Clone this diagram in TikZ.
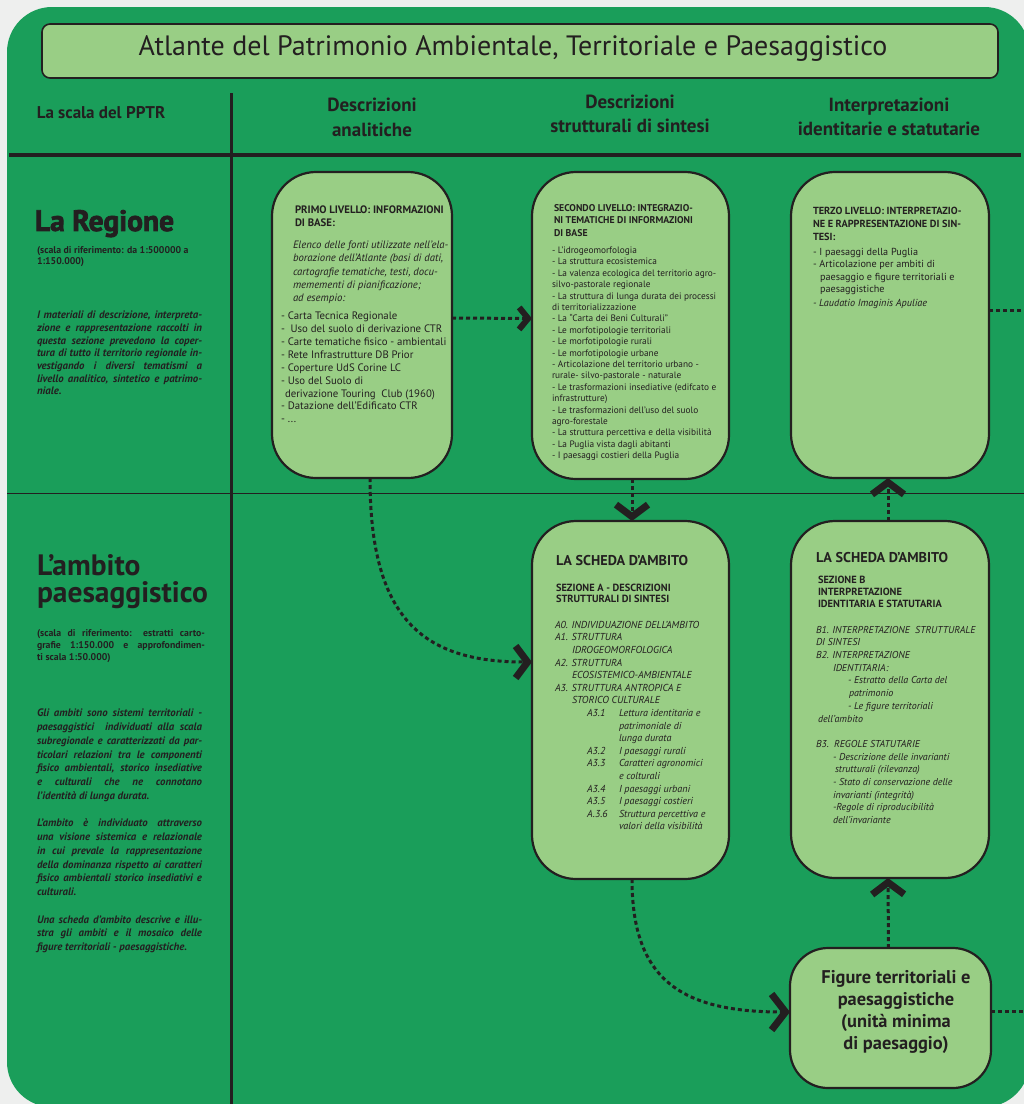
\documentclass[tikz,border=0pt]{standalone}
\usepackage{fontspec}
\setmainfont{PT Sans}
\newfontfamily\heavyfont[FakeBold=2.5]{PT Sans}
\usetikzlibrary{arrows.meta}
\definecolor{bggray}{RGB}{238,239,238}
\definecolor{mygreen}{RGB}{26,158,90}
\definecolor{boxgreen}{RGB}{153,206,133}
\definecolor{ink}{RGB}{35,31,32}
\newcommand{\jline}[2][165pt]{\makebox[#1][s]{#2}}
\newcommand{\secitem}[2]{\hspace*{32pt}\makebox[32pt][l]{#1}#2}
\begin{document}
\begin{tikzpicture}[x=1pt,y=-1pt,
  every node/.style={inner sep=0pt,outer sep=0pt,text=ink},
  card/.style={draw=ink,line width=2.2pt,fill=boxgreen,rounded corners=44pt},
  txt/.style={anchor=north west,align=left},
  colhead/.style={align=center,font=\bfseries\fontsize{19}{24.5}\selectfont},
  bigleft/.style={anchor=base west,font=\bfseries\fontsize{29.5}{34}\selectfont},
  dotl/.style={draw=ink,line width=3pt,dash pattern=on 4pt off 3pt},
  chevs/.style={-{Straight Barb[length=9pt,width=22pt,line width=6pt]}},
  chevl/.style={-{Straight Barb[length=12pt,width=32pt,line width=7pt]}},
  chevx/.style={-{Straight Barb[length=14pt,width=36pt,line width=7pt]}}]
\useasboundingbox (0,0) rectangle (1024,1104);
\fill[bggray] (0,0) rectangle (1024,1104);
\fill[mygreen,rounded corners=45pt] (7,7) rectangle (1029.5,1107);

% title
\node[card,rounded corners=8pt,line width=1.6pt,minimum width=956pt,minimum height=54pt] (title) at (520,51) {};
\node[font=\fontsize{28}{34}\selectfont] (titletxt) at (513,49)
  {Atlante del Patrimonio Ambientale, Territoriale e Paesaggistico};

% grid lines
\draw[ink,line width=4pt] (9,155) -- (1021,155);
\draw[ink,line width=1pt] (7,493) -- (1028,493);
\draw[ink,line width=3pt] (231,93) -- (231,1104);

% column headers
\node[font=\bfseries\fontsize{17}{20}\selectfont] (hscale) at (101,113) {La scala del PPTR};
\node[colhead] (h1) at (372,117.5) {Descrizioni\\analitiche};
\node[colhead] (h2) at (630,114) {Descrizioni\\strutturali di sintesi};
\node[colhead] (h3) at (889,117) {Interpretazioni\\identitarie e statutarie};

% left column: La Regione
\node[txt,font=\heavyfont\bfseries\fontsize{29.5}{34}\selectfont] (reg) at (35,210) {La Regione};
\node[txt,font=\bfseries\fontsize{9.8}{11}\selectfont] (regs) at (37,246)
  {(scala di riferimento: da 1:500000 a\\1:150.000)};
\node[txt,font=\bfseries\itshape\fontsize{10.8}{12.7}\selectfont] (regp) at (37,311)
  {\jline{I materiali di descrizione, interpreta-}\\
   \jline{zione e rappresentazione raccolti in}\\
   \jline{questa sezione prevedono la coper-}\\
   \jline{tura di tutto il territorio regionale in-}\\
   \jline{vestigando i diversi tematismi a}\\
   \jline{livello analitico, sintetico e patrimo-}\\
   niale.};

% left column: L'ambito
\node[bigleft] (amb1) at (37,575) {L’ambito};
\node[bigleft] (amb2) at (37,602) {paesaggistico};
\node[txt,font=\bfseries\fontsize{9.8}{12}\selectfont] (ambs) at (37,630)
  {\jline[168pt]{(scala di riferimento: estratti carto-}\\
   \jline[168pt]{grafie 1:150.000 e approfondimen-}\\
   ti scala 1:50.000)};
\node[txt,font=\bfseries\itshape\fontsize{10.8}{13.76}\selectfont] (ambp) at (37,709)
  {\jline{Gli ambiti sono sistemi territoriali -}\\
   \jline{paesaggistici\ \ individuati alla scala}\\
   \jline{subregionale e caratterizzati da par-}\\
   \jline{ticolari relazioni tra le componenti}\\
   \jline{fisico ambientali, storico insediative}\\
   \jline{e culturali che ne connotano}\\
   l’identità di lunga durata.\\
   \mbox{}\\
   \jline{L’ambito è individuato attraverso}\\
   \jline{una visione sistemica e relazionale}\\
   \jline{in cui prevale la rappresentazione}\\
   \jline{della dominanza rispetto ai caratteri}\\
   \jline{fisico ambientali storico insediativi e}\\
   culturali.\\
   \mbox{}\\
   \jline{Una scheda d’ambito descrive e illu-}\\
   \jline{stra gli ambiti e il mosaico delle}\\
   figure territoriali - paesaggistiche.};

% cards
\node[card,minimum width=180pt,minimum height=306pt] (b1) at (362,325) {};
\node[card,minimum width=197pt,minimum height=307pt] (b2) at (630.5,325.5) {};
\node[card,minimum width=198pt,minimum height=306pt] (b3) at (890,325) {};
\node[card,minimum width=197pt,minimum height=358pt] (bA) at (630.5,700) {};
\node[card,minimum width=198pt,minimum height=357pt] (bB) at (890,699.5) {};
\node[card,rounded corners=38pt,minimum width=201pt,minimum height=140pt] (fig) at (890.5,1018) {};

% box 1 text
\node[txt,font=\bfseries\fontsize{10.8}{12.6}\selectfont] (b1h) at (295,206) {PRIMO LIVELLO: INFORMAZIONI\\DI BASE:};
\node[txt,font=\itshape\fontsize{10.7}{13.2}\selectfont] (b1i) at (293,241)
  {Elenco delle fonti utilizzate nell’ela-\\borazione dell’Atlante (basi di dati,\\cartografie tematiche, testi, docu-\\memementi di pianificazione;\\ad esempio:};
\node[txt,font=\fontsize{10.8}{12.9}\selectfont] (b1l) at (281,312)
  {- Carta Tecnica Regionale\\-\ \ Uso del suolo di derivazione CTR\\- Carte tematiche fisico - ambientali\\- Rete Infrastrutture DB Prior\\- Coperture UdS Corine LC\\- Uso del Suolo di\\\hspace*{4pt}derivazione Touring\ \ Club (1960)\\- Datazione dell’Edificato CTR\\- ...};

% box 2 text
\node[txt,font=\bfseries\fontsize{9.8}{12.5}\selectfont] (b2h) at (554,204)
  {SECONDO LIVELLO: INTEGRAZIO-\\NI TEMATICHE DI INFORMAZIONI\\DI BASE};
\node[txt,font=\fontsize{9.3}{11.4}\selectfont] (b2l) at (552,247)
  {- L’idrogeomorfologia\\- La struttura ecosistemica\\- La valenza ecologica del territorio agro-\\silvo-pastorale regionale\\- La struttura di lunga durata dei processi\\di territorializzazione\\- La “Carta dei Beni Culturali”\\- Le morfotipologie territoriali\\- Le morfotipologie rurali\\- Le morfotipologie urbane\\- Articolazione del territorio urbano -\\rurale- silvo-pastorale - naturale\\- Le trasformazioni insediative (edifcato e\\infrastrutture)\\- Le trasformazioni dell’uso del suolo\\agro-forestale\\- La struttura percettiva e della visibilità\\- La Puglia vista dagli abitanti\\- I paesaggi costieri della Puglia};

% box 3 text
\node[txt,font=\bfseries\fontsize{10.3}{13}\selectfont] (b3h) at (813,207)
  {TERZO LIVELLO: INTERPRETAZIO-\\NE E RAPPRESENTAZIONE DI SIN-\\TESI:};
\node[txt,font=\fontsize{10.2}{12.4}\selectfont] (b3l) at (813,248)
  {- I paesaggi della Puglia\\- Articolazione per ambiti di\\\hspace*{7pt}paesaggio e figure territoriali e\\\hspace*{7pt}paesaggistiche\\[2pt]\textit{- Laudatio Imaginis Apuliae}};

% box A text
\node[txt,font=\bfseries\fontsize{14.2}{16}\selectfont] (aT) at (556,555) {LA SCHEDA D’AMBITO};
\node[txt,font=\bfseries\fontsize{10.4}{11.5}\selectfont] (aS) at (556,584) {SEZIONE A - DESCRIZIONI\\STRUTTURALI DI SINTESI};
\node[txt,font=\itshape\fontsize{10.1}{12.6}\selectfont] (aL) at (555,621)
  {A0. INDIVIDUAZIONE DELL’AMBITO\\
   A1. STRUTTURA\\
   \hspace*{17pt}IDROGEOMORFOLOGICA\\
   A2. STRUTTURA\\
   \hspace*{17pt}ECOSISTEMICO-AMBIENTALE\\
   A3. STRUTTURA ANTROPICA E\\
   \hspace*{17pt}STORICO CULTURALE\\
   \secitem{A3.1}{Lettura identitaria e}\\
   \hspace*{64pt}patrimoniale di\\
   \hspace*{64pt}lunga durata\\
   \secitem{A3.2}{I paesaggi rurali}\\
   \secitem{A3.3}{Caratteri agronomici}\\
   \hspace*{64pt}e colturali\\
   \secitem{A3.4}{I paesaggi urbani}\\
   \secitem{A3.5}{I paesaggi costieri}\\
   \secitem{A.3.6}{Struttura percettiva e}\\
   \hspace*{64pt}valori della visibilità};

% box B text
\node[txt,font=\bfseries\fontsize{14.2}{16}\selectfont] (bT) at (816,552) {LA SCHEDA D’AMBITO};
\node[txt,font=\bfseries\fontsize{10.4}{12}\selectfont] (bS) at (818,576) {SEZIONE B\\INTERPRETAZIONE\\IDENTITARIA E STATUTARIA};
\node[txt,font=\itshape\fontsize{10}{12.7}\selectfont] (bL) at (816,626)
  {B1. INTERPRETAZIONE\ \ STRUTTURALE\\
   DI SINTESI\\
   B2. INTERPRETAZIONE\\
   \hspace*{17pt}IDENTITARIA:\\
   \hspace*{32pt}- Estratto della Carta del\\
   \hspace*{33pt}patrimonio\\
   \hspace*{32pt}- Le figure territoriali\\
   \hspace*{2pt}dell’ambito\\
   \mbox{}\\
   B3.\ \ REGOLE STATUTARIE\\
   \hspace*{17pt}- Descrizione delle invarianti\\
   \hspace*{19pt}strutturali (rilevanza)\\
   \hspace*{17pt}- Stato di conservazione delle\\
   \hspace*{17pt}invarianti (integrità)\\
   \hspace*{17pt}-Regole di riproducibilità\\
   \hspace*{17pt}dell’invariante};

% figure box text
\node[align=center,font=\bfseries\fontsize{18.4}{21.7}\selectfont] (figtxt) at (896,1012)
  {Figure territoriali e\\paesaggistiche\\(unità minima\\di paesaggio)};

% connectors
\coordinate (r1) at (1030,310);
\coordinate (r2) at (1030,1011);
\draw[dotl,chevs] ([yshift=7pt]b1.east) -- ([yshift=7pt]b2.west);
\draw[dotl,chevl] ([xshift=1.5pt]b2.south) -- ([xshift=1.5pt]bA.north);
\draw[dotl,chevl] ([xshift=-2pt]bB.north) -- ([xshift=-2pt]b3.south);
\draw[dotl,chevl] ([xshift=-2pt]fig.north) -- ([xshift=-2pt]bB.south);
\draw[dotl,chevl] ([xshift=8pt]b1.south) .. controls +(0,140) and +(-110,0) .. ([yshift=38pt]bA.west);
\draw[dotl,chevx] ([xshift=1.5pt]bA.south) .. controls +(0,100) and +(-110,0) .. ([yshift=6pt]fig.west);
\draw[dotl] (b3.east |- r1) -- (r1);
\draw[dotl] (fig.east |- r2) -- (r2);
\end{tikzpicture}
\end{document}
